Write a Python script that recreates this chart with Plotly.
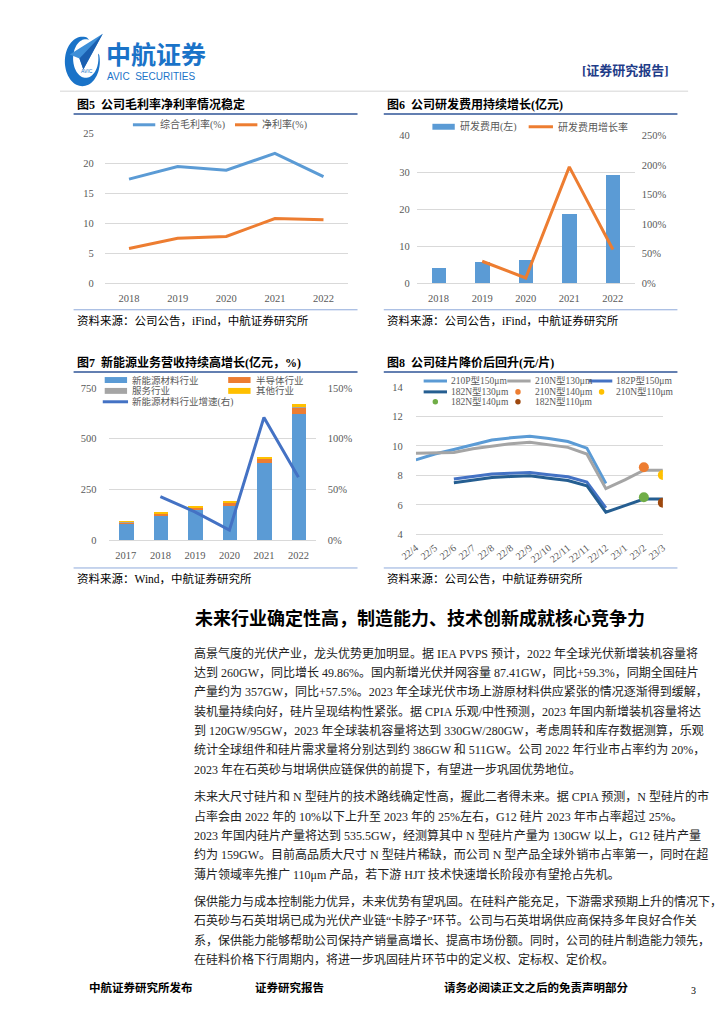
import math
import plotly.graph_objects as go

W, H = 724, 1024
def X(p): return p / W
def Y(p): return 1 - p / H

SERIF = "Liberation Serif, Noto Sans CJK SC, serif"
GRID = "#d9d9d9"
TICK = "#595959"

# ---------------- data ----------------
# Fig 5
years5 = ["2018", "2019", "2020", "2021", "2022"]
gross_margin = [17.4, 19.5, 18.9, 21.7, 17.8]
net_margin = [5.8, 7.5, 7.8, 10.8, 10.6]

# Fig 6
years6 = ["2018", "2019", "2020", "2021", "2022"]
rd_expense = [4.2, 5.8, 6.3, 18.7, 29.3]
rd_growth = [None, 0.37, 0.086, 1.97, 0.57]

# Fig 7
years7 = ["2017", "2018", "2019", "2020", "2021", "2022"]
new_energy = [84, 120, 154, 170, 380, 622]
semiconductor = [6, 13, 9, 15, 24, 32]
service = [1, 1, 1, 1, 1, 1]
other = [2, 2, 2, 3, 5, 15]
new_energy_growth = [None, 0.43, 0.28, 0.10, 1.21, 0.62]

# Fig 8
months8 = ["22/4", "22/5", "22/6", "22/7", "22/8", "22/8", "22/9", "22/10",
           "22/11", "22/11", "22/12", "23/1", "23/2", "23/3"]
p210_150 = [9.05, 9.45, 9.75, 10.1, 10.4, 10.55, 10.65, 10.5, 10.3, 9.85, 7.45, None, None, None]
n210_130 = [9.5, 9.5, 9.55, 9.8, 10.0, 10.15, 10.25, 10.05, 9.9, 9.45, 7.1, 7.7, 8.35, 8.35]
p182_150 = [None, None, 7.75, 7.95, 8.1, 8.15, 8.2, 8.05, 7.9, 7.55, 5.8, None, None, None]
n182_130 = [None, None, 7.5, 7.7, 7.85, 7.92, 7.97, 7.8, 7.65, 7.3, 5.5, 5.95, 6.4, 6.4]
n210_140 = [None, None, None, None, None, None, None, None, None, None, None, None, 8.55, None]
n210_110 = [None, None, None, None, None, None, None, None, None, None, None, None, None, 8.02]
n182_140 = [None, None, None, None, None, None, None, None, None, None, None, None, 6.52, None]
n182_110 = [None, None, None, None, None, None, None, None, None, None, None, None, None, 6.15]

fig = go.Figure()

# ---------------- traces ----------------
fig.add_trace(go.Scatter(x=years5, y=gross_margin, mode="lines", line=dict(color="#5b9bd5", width=3),
                         xaxis="x", yaxis="y", showlegend=False))
fig.add_trace(go.Scatter(x=years5, y=net_margin, mode="lines", line=dict(color="#ed7d31", width=3),
                         xaxis="x", yaxis="y", showlegend=False))

fig.add_trace(go.Bar(x=years6, y=rd_expense, marker=dict(color="#5b9bd5", line=dict(width=0)), width=0.33,
                     xaxis="x2", yaxis="y2", showlegend=False))
fig.add_trace(go.Scatter(x=years6, y=rd_growth, mode="lines", line=dict(color="#ed7d31", width=3),
                         xaxis="x2", yaxis="y3", showlegend=False))

for vals, col in [(new_energy, "#5b9bd5"), (semiconductor, "#ed7d31"), (service, "#a5a5a5"), (other, "#ffc000")]:
    fig.add_trace(go.Bar(x=years7, y=vals, marker=dict(color=col, line=dict(width=0)), width=0.42,
                         xaxis="x3", yaxis="y4", showlegend=False))
fig.add_trace(go.Scatter(x=years7, y=new_energy_growth, mode="lines", line=dict(color="#4472c4", width=3),
                         xaxis="x3", yaxis="y5", showlegend=False))

idx8 = list(range(len(months8)))
for vals, col in [(p210_150, "#5b9bd5"), (n210_130, "#a5a5a5"), (p182_150, "#4472c4"), (n182_130, "#255e91")]:
    fig.add_trace(go.Scatter(x=idx8, y=vals, mode="lines", line=dict(color=col, width=3),
                             xaxis="x4", yaxis="y6", showlegend=False, connectgaps=False))
for vals, col in [(n210_140, "#ed7d31"), (n210_110, "#ffc000"), (n182_140, "#70ad47"), (n182_110, "#9e480e")]:
    fig.add_trace(go.Scatter(x=idx8, y=vals, mode="markers", marker=dict(color=col, size=10),
                             xaxis="x4", yaxis="y6", showlegend=False))

# ---------------- axes ----------------
tf = dict(family=SERIF, size=10.5, color=TICK)
def xcat(dom, anchor, n):
    return dict(domain=dom, anchor=anchor, type="category", range=[-0.5, n - 0.5], showgrid=False,
                showline=True, linecolor=GRID, linewidth=1, ticks="", tickfont=tf, ticklabelstandoff=5,
                zeroline=False, fixedrange=True)
def yleft(dom, anchor, rng, dt, standoff):
    return dict(domain=dom, anchor=anchor, range=rng, dtick=dt, tick0=rng[0], showgrid=True, gridcolor=GRID,
                gridwidth=1, zeroline=False, showline=False, ticks="", tickfont=tf, ticklabelstandoff=standoff)
def yright(over, anchor, rng, dt, standoff):
    return dict(overlaying=over, anchor=anchor, side="right", range=rng, dtick=dt, tick0=0, tickformat=".0%",
                showgrid=False, zeroline=False, showline=False, ticks="", tickfont=tf, ticklabelstandoff=standoff)

layout_axes = dict(
    xaxis=xcat([X(83), X(333)], "y", 5),
    yaxis=yleft([Y(273), Y(122)], "x", [0, 25], 5, 10),
    xaxis2=xcat([X(404), X(628)], "y2", 5),
    yaxis2=yleft([Y(273), Y(124)], "x2", [0, 40], 10, 6),
    yaxis3=yright("y2", "x2", [0, 2.5], 0.5, 6),
    xaxis3=xcat([X(87), X(300)], "y4", 6),
    yaxis4=yleft([Y(533), Y(379)], "x3", [0, 750], 250, 11),
    yaxis5=yright("y4", "x3", [0, 1.5], 0.5, 11),
    xaxis4=dict(domain=[X(403), X(657)], anchor="y6", range=[0, 13], tickvals=idx8, ticktext=months8,
                tickangle=-38, showgrid=False, showline=True, linecolor=GRID, ticks="",
                tickfont=dict(family=SERIF, size=10, color=TICK), ticklabelstandoff=3, zeroline=False),
    yaxis6=yleft([Y(527), Y(378)], "x4", [4, 14], 2, 12),
)

# ---------------- shapes & annotations ----------------
shapes = []
ann = []

def line(x0, y0, x1, y1, color, width, layer="above"):
    shapes.append(dict(type="line", xref="paper", yref="paper", x0=X(x0), y0=Y(y0), x1=X(x1), y1=Y(y1),
                       line=dict(color=color, width=width), layer=layer))

def rect(x0, y0, x1, y1, color, layer="above"):
    shapes.append(dict(type="rect", xref="paper", yref="paper", x0=X(x0), y0=Y(y0), x1=X(x1), y1=Y(y1),
                       fillcolor=color, line=dict(width=0), layer=layer))

def dot(cx, cy, r, color):
    shapes.append(dict(type="circle", xref="paper", yref="paper", x0=X(cx - r), y0=Y(cy + r), x1=X(cx + r),
                       y1=Y(cy - r), fillcolor=color, line=dict(width=0), layer="above"))

def text(s, x, y, size=12, color="#000", family=SERIF, xanchor="left", bold=False):
    ann.append(dict(text=("<b>%s</b>" % s) if bold else s, x=X(x), y=Y(y), xref="paper", yref="paper",
                    xanchor=xanchor, yanchor="middle", showarrow=False,
                    font=dict(family=family, size=size, color=color)))

# header logo
def poly(pts, color):
    d = "M " + " L ".join("%f,%f" % (X(px), Y(py)) for px, py in pts) + " Z"
    shapes.append(dict(type="path", xref="paper", yref="paper", path=d, fillcolor=color,
                       line=dict(width=0), layer="above"))

outer, inner = [], []
for k in range(61):
    t = math.radians(75 + 300 * k / 60)
    outer.append((60 + 18 * math.cos(t), 49 - 25 * math.sin(t)))
    inner.append((63.5 + 13 * math.cos(t), 46 - 19.5 * math.sin(t)))
poly(outer + inner[::-1], "#1a73c8")
poly([(81, 21), (47, 42), (57, 46), (61, 57)], "#3d8fd8")
poly([(81, 21), (57, 46), (61, 57)], "#1a5fb0")
text("AVIC", 57, 59, size=5, color="#1a73c8", family="Liberation Sans")
text("<b>中航证券</b>", 82, 40, size=25, color="#1a73c8", family="Noto Sans CJK SC")
text("AVIC  SECURITIES", 83, 64, size=10, color="#1a73c8", family="Liberation Sans")
text("[证券研究报告]", 572, 58, size=13, color="#1f3c88", bold=True)
line(37, 79, 683, 79, "#e3e3e3", 1.5)

# chart frames
TITLE_LINE = "#2f5597"
SRC_LINE = "#8eaadb"
def frame(x0, x1, ytitle, title, ybot, src):
    text(title, x0 + 1, ytitle, size=12, color="#000", bold=True)
    line(x0, ytitle + 10, x1, ytitle + 10, TITLE_LINE, 1.5)
    line(x0, ybot, x1, ybot, SRC_LINE, 1)
    text(src, x0 + 1, ybot + 11, size=11.5, color="#000")

frame(51, 343, 92, "图5  公司毛利率净利率情况稳定", 300, "资料来源：公司公告，iFind，中航证券研究所")
frame(370, 672, 92, "图6  公司研发费用持续增长(亿元)", 300, "资料来源：公司公告，iFind，中航证券研究所")
frame(51, 343, 353, "图7  新能源业务营收持续高增长(亿元，%)", 561, "资料来源：Wind，中航证券研究所")
frame(370, 672, 353, "图8  公司硅片降价后回升(元/片)", 561, "资料来源：公司公告，中航证券研究所")

LEG = "#595959"
# legend fig 5
line(112, 113, 135, 113, "#5b9bd5", 3)
text("综合毛利率(%)", 138, 113, size=10, color=LEG)
line(217, 113, 240, 113, "#ed7d31", 3)
text("净利率(%)", 243, 113, size=10, color=LEG)

# legend fig 6
rect(420, 112, 443, 118, "#5b9bd5")
text("研发费用(左)", 446, 115, size=10, color=LEG)
line(519, 115, 544, 115, "#ed7d31", 3)
text("研发费用增长率", 547, 115, size=10, color=LEG)

# legend fig 7
rect(86, 376, 301, 382, "white")
rect(83, 368, 106, 374, "#5b9bd5")
text("新能源材料行业", 109, 371, size=9.5, color=LEG)
rect(210, 368, 233, 374, "#ed7d31")
text("半导体行业", 237, 371, size=9.5, color=LEG)
rect(83, 379, 106, 385, "#a5a5a5")
text("服务行业", 109, 382, size=9.5, color=LEG)
rect(210, 379, 233, 385, "#ffc000")
text("其他行业", 237, 382, size=9.5, color=LEG)
line(81, 393, 107, 393, "#4472c4", 3)
text("新能源材料行业增速(右)", 109, 393, size=9.5, color=LEG)

# legend fig 8
rect(402, 375, 658, 381, "white")
line(411, 372, 435, 372, "#5b9bd5", 3)
text("210P型150μm", 437, 372, size=9.5, color=LEG)
line(497, 372, 521, 372, "#a5a5a5", 3)
text("210N型130μm", 523, 372, size=9.5, color=LEG)
line(581, 372, 605, 372, "#4472c4", 3)
text("182P型150μm", 607, 372, size=9.5, color=LEG)
line(411, 383, 435, 383, "#255e91", 3)
text("182N型130μm", 437, 383, size=9.5, color=LEG)
dot(508, 383, 2.8, "#ed7d31")
text("210N型140μm", 523, 383, size=9.5, color=LEG)
dot(594, 383, 2.8, "#ffc000")
text("210N型110μm", 607, 383, size=9.5, color=LEG)
dot(423, 393, 2.8, "#70ad47")
text("182N型140μm", 437, 393, size=9.5, color=LEG)
dot(508, 393, 2.8, "#9e480e")
text("182N型110μm", 523, 393, size=9.5, color=LEG)

# body text
text("未来行业确定性高，制造能力、技术创新成就核心竞争力", 174, 611, size=18, color="#000",
     family="Noto Sans CJK SC", bold=True)

para1 = [
    "高景气度的光伏产业，龙头优势更加明显。据 IEA PVPS 预计，2022 年全球光伏新增装机容量将",
    "达到 260GW，同比增长 49.86%。国内新增光伏并网容量 87.41GW，同比+59.3%，同期全国硅片",
    "产量约为 357GW，同比+57.5%。2023 年全球光伏市场上游原材料供应紧张的情况逐渐得到缓解，",
    "装机量持续向好，硅片呈现结构性紧张。据 CPIA 乐观/中性预测，2023 年国内新增装机容量将达",
    "到 120GW/95GW，2023 年全球装机容量将达到 330GW/280GW，考虑周转和库存数据测算，乐观",
    "统计全球组件和硅片需求量将分别达到约 386GW 和 511GW。公司 2022 年行业市占率约为 20%，",
    "2023 年在石英砂与坩埚供应链保供的前提下，有望进一步巩固优势地位。",
]
para2 = [
    "未来大尺寸硅片和 N 型硅片的技术路线确定性高，握此二者得未来。据 CPIA 预测，N 型硅片的市",
    "占率会由 2022 年的 10%以下上升至 2023 年的 25%左右，G12 硅片 2023 年市占率超过 25%。",
    "2023 年国内硅片产量将达到 535.5GW，经测算其中 N 型硅片产量为 130GW 以上，G12 硅片产量",
    "约为 159GW。目前高品质大尺寸 N 型硅片稀缺，而公司 N 型产品全球外销市占率第一，同时在超",
    "薄片领域率先推广 110μm 产品，若下游 HJT 技术快速增长阶段亦有望抢占先机。",
]
para3 = [
    "保供能力与成本控制能力优异，未来优势有望巩固。在硅料产能充足，下游需求预期上升的情况下，",
    "石英砂与石英坩埚已成为光伏产业链“卡脖子”环节。公司与石英坩埚供应商保持多年良好合作关",
    "系，保供能力能够帮助公司保持产销量高增长、提高市场份额。同时，公司的硅片制造能力领先，",
    "在硅料价格下行周期内，将进一步巩固硅片环节中的定义权、定标权、定价权。",
]
BODY = "#222222"
LS = 19.6
y0 = 647
for i, s in enumerate(para1):
    text(s, 173, y0 + LS * i, size=12, color=BODY)
y0 = 647 + LS * 7 + 8
for i, s in enumerate(para2):
    text(s, 173, y0 + LS * i, size=12, color=BODY)
y0 = y0 + LS * 5 + 8
for i, s in enumerate(para3):
    text(s, 173, y0 + LS * i, size=12, color=BODY)

# footer
text("中航证券研究所发布", 65, 985, size=11.5, color="#000", bold=True)
text("证券研究报告", 235, 985, size=11.5, color="#000", bold=True)
text("请务必阅读正文之后的免责声明部分", 430, 985, size=11.5, color="#000", bold=True)
text("3", 684, 988, size=10, color="#000")

fig.update_layout(
    width=W, height=H, margin=dict(l=0, r=0, t=0, b=0),
    paper_bgcolor="white", plot_bgcolor="white",
    barmode="stack", bargap=0, showlegend=False,
    shapes=shapes, annotations=ann, **layout_axes,
)

fig.write_html("out.html")
